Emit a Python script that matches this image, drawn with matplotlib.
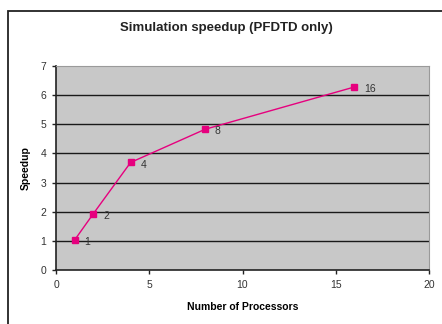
import matplotlib
matplotlib.use("Agg")
import matplotlib.pyplot as plt
from matplotlib.patches import Rectangle

plt.rcParams['font.family'] = ['Liberation Sans', 'DejaVu Sans']

processors = [1, 2, 4, 8, 16]
speedup = [1.03, 1.93, 3.69, 4.83, 6.28]
point_labels = ["1", "2", "4", "8", "16"]
x_ticks = [0, 5, 10, 15, 20]
y_ticks = [0, 1, 2, 3, 4, 5, 6, 7]

W, H = 442, 324
fig = plt.figure(figsize=(W / 100, H / 100), dpi=100)
fig.patch.set_facecolor('white')

# outer chart border
fig.patches.append(Rectangle((8 / W, -0.1), 1.2, (H - 11) / H + 0.1,
                             transform=fig.transFigure, fill=False,
                             edgecolor='#222222', linewidth=1.3))

left, right, top, bottom = 56, 429, 66, 270
ax = fig.add_axes([left / W, 1 - bottom / H, (right - left) / W, (bottom - top) / H])
ax.set_facecolor('#c8c8c8')
ax.set_xlim(0, 20)
ax.set_ylim(0, 7)
ax.set_xticks(x_ticks)
ax.set_yticks(y_ticks)
for y in y_ticks[1:-1]:
    ax.axhline(y, color='#1a1a1a', linewidth=1.0, zorder=1)

for s in ['top', 'right']:
    ax.spines[s].set_color('#9a9a9a')
    ax.spines[s].set_linewidth(0.8)
for s in ['left', 'bottom']:
    ax.spines[s].set_color('#222222')
    ax.spines[s].set_linewidth(1.2)
ax.tick_params(direction='out', length=3, width=1, color='#222222',
               labelsize=7.5, labelcolor='#333333', pad=4)

ax.plot(processors, speedup, color='#e6007e', linewidth=1.0, marker='s',
        markersize=5, zorder=3)
for x, y, t in zip(processors, speedup, point_labels):
    ax.annotate(t, (x, y), xytext=(7, -1.5), textcoords='offset points',
                fontsize=7.5, color='#333333', va='center', ha='left')

ax.set_xlabel('Number of Processors', fontsize=7.5, fontweight='bold', labelpad=9)
ax.set_ylabel('Speedup', fontsize=7.5, fontweight='bold', labelpad=7)
fig.text(226 / W, 1 - 28 / H, 'Simulation speedup (PFDTD only)',
         fontsize=9.5, fontweight='bold', ha='center', va='center', color='#222222')

fig.savefig('out.png', dpi=100)
